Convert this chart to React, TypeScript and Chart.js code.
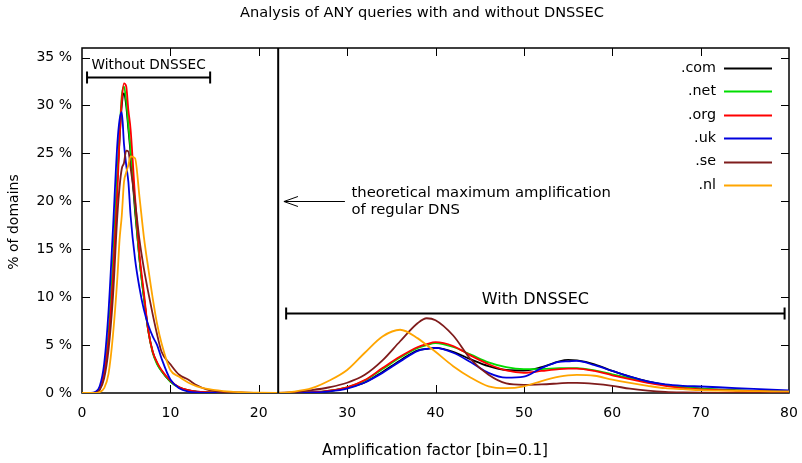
import React, { useEffect, useRef } from 'react';
import { Chart, registerables } from 'chart.js';
Chart.register(...registerables);

const FONT = "'DejaVu Sans', 'Liberation Sans', sans-serif";

const X = [0, 1, 1.5, 2, 2.5, 3, 3.5, 4, 4.25, 4.5, 4.75, 5, 5.25, 5.5, 6, 6.5, 7, 7.5, 8, 8.5, 9, 10, 11, 12, 13, 14, 16, 18, 20, 22,
  24, 26, 28, 30, 32, 34, 36, 38, 39, 40, 42, 44, 46, 48, 50, 52, 54, 55, 56, 58, 60, 62, 64, 66, 68, 70, 72, 74, 76, 78, 80];

const COM = [0, 0, 0.05, 0.4, 1.9, 5.8, 13, 22.5, 26.5, 30.0, 31.3, 30.0, 27.5, 25, 19, 14, 10, 6.5, 4.3, 3.1, 2.3, 1.2, 0.6, 0.3, 0.15, 0.08, 0.03, 0.01, 0, 0,
  0.02, 0.06, 0.2, 0.55, 1.1, 2.2, 3.4, 4.45, 4.6, 4.7, 4.3, 3.5, 2.8, 2.4, 2.35, 2.7, 3.3, 3.45, 3.4, 3.0, 2.3, 1.7, 1.2, 0.85, 0.6, 0.45, 0.35, 0.28, 0.22, 0.18, 0.15];
const NET = [0, 0, 0.05, 0.5, 2.2, 6, 13.5, 22.5, 27, 31, 32.0, 30.5, 28, 25.5, 19.5, 14, 10, 6.5, 4.2, 3.0, 2.3, 1.2, 0.55, 0.25, 0.12, 0.06, 0.02, 0.01, 0, 0,
  0.03, 0.08, 0.25, 0.6, 1.3, 2.5, 3.7, 4.7, 5.0, 5.2, 4.8, 4.0, 3.2, 2.7, 2.5, 2.5, 2.6, 2.6, 2.6, 2.35, 1.95, 1.55, 1.15, 0.85, 0.6, 0.45, 0.35, 0.28, 0.22, 0.18, 0.15];
const ORG = [0, 0, 0.05, 0.5, 2.0, 5.5, 12, 21, 26.5, 30.5, 32.3, 32.0, 29.5, 27.5, 20.5, 14.5, 10.5, 6.5, 4.3, 3.2, 2.4, 1.3, 0.6, 0.3, 0.15, 0.08, 0.03, 0.01, 0, 0,
  0.03, 0.08, 0.25, 0.6, 1.35, 2.6, 3.8, 4.8, 5.1, 5.3, 4.9, 3.9, 3.0, 2.35, 2.1, 2.3, 2.5, 2.55, 2.55, 2.3, 1.85, 1.45, 1.05, 0.75, 0.5, 0.38, 0.3, 0.24, 0.2, 0.16, 0.13];
const UK = [0, 0, 0.1, 0.7, 3.0, 8.5, 17, 26, 28.5, 29.3, 26.0, 23.8, 22, 18.5, 14, 11, 8.7, 7.1, 5.9, 5.0, 3.6, 1.4, 0.5, 0.15, 0.05, 0.02, 0.01, 0, 0, 0,
  0.02, 0.05, 0.17, 0.46, 1.1, 2.1, 3.3, 4.4, 4.6, 4.7, 4.2, 3.2, 2.1, 1.6, 1.7, 2.6, 3.25, 3.3, 3.35, 2.9, 2.3, 1.7, 1.2, 0.9, 0.75, 0.68, 0.6, 0.5, 0.42, 0.35, 0.28];
const SE = [0, 0, 0.02, 0.3, 1.5, 4.5, 10, 18.5, 21.5, 23.4, 24.0, 25.3, 25.2, 23.5, 20, 16, 13, 10.5, 8.2, 6.1, 4.3, 3.0, 1.9, 1.4, 0.8, 0.4, 0.1, 0.05, 0.02, 0.02,
  0.1, 0.3, 0.6, 1.07, 1.9, 3.4, 5.4, 7.3, 7.8, 7.6, 6.0, 3.5, 1.9, 1.0, 0.85, 0.9, 1.0, 1.05, 1.05, 0.95, 0.75, 0.45, 0.25, 0.12, 0.06, 0.03, 0.02, 0.02, 0.02, 0.02, 0.02];
const NL = [0, 0, 0, 0.1, 0.5, 2.0, 6, 12, 16, 18.5, 22, 23, 23.8, 24.7, 24.5, 20.5, 16.3, 13, 9.9, 7.2, 5.2, 2.4, 1.7, 1.1, 0.7, 0.45, 0.2, 0.08, 0.03, 0.02,
  0.15, 0.5, 1.3, 2.4, 4.2, 5.9, 6.6, 5.7, 5.0, 4.3, 2.8, 1.6, 0.7, 0.5, 0.7, 1.25, 1.7, 1.85, 1.9, 1.8, 1.4, 1.05, 0.75, 0.5, 0.4, 0.3, 0.25, 0.22, 0.2, 0.18, 0.18];

const SERIES = [COM, NET, ORG, UK, SE, NL];
const NAMES = ['.com', '.net', '.org', '.uk', '.se', '.nl'];
const COLORS = ['#000000', '#00dd00', '#ff0000', '#0000dd', '#7f1c1c', '#ffa500'];

const X_TICKS = [0, 10, 20, 30, 40, 50, 60, 70, 80];
const Y_TICKS = [0, 5, 10, 15, 20, 25, 30, 35];

const TITLE = 'Analysis of ANY queries with and without DNSSEC';
const X_TITLE = 'Amplification factor [bin=0.1]';
const Y_TITLE = '% of domains';
const LIMIT_X = 22.2;

export default function App() {
  const ref = useRef<HTMLCanvasElement>(null);
  useEffect(() => {
    const canvas = ref.current!;
    const overlay = {
      id: 'overlay',
      beforeDatasetsDraw(chart: any) {
        const { ctx, chartArea: a, scales } = chart;
        ctx.save();
        ctx.strokeStyle = '#000';
        ctx.lineWidth = 1;
        const tl = 8;
        X_TICKS.forEach((v) => {
          if (v === 0 || v === 80) return;
          const px = Math.round(scales.x.getPixelForValue(v)) + 0.5;
          ctx.beginPath();
          ctx.moveTo(px, a.bottom); ctx.lineTo(px, a.bottom - tl);
          ctx.moveTo(px, a.top); ctx.lineTo(px, a.top + tl);
          ctx.stroke();
        });
        Y_TICKS.forEach((v) => {
          if (v === 0) return;
          const py = Math.round(scales.y.getPixelForValue(v)) + 0.5;
          ctx.beginPath();
          ctx.moveTo(a.left, py); ctx.lineTo(a.left + tl, py);
          ctx.moveTo(a.right, py); ctx.lineTo(a.right - tl, py);
          ctx.stroke();
        });
        ctx.lineWidth = 1.5;
        ctx.strokeRect(a.left, a.top, a.right - a.left, a.bottom - a.top);
        ctx.restore();
      },
      afterDatasetsDraw(chart: any) {
        const { ctx, chartArea: a, scales } = chart;
        const sx = (v: number) => scales.x.getPixelForValue(v);
        const sy = (v: number) => scales.y.getPixelForValue(v);
        ctx.save();
        ctx.strokeStyle = '#000';
        ctx.fillStyle = '#000';
        ctx.lineWidth = 2;
        ctx.beginPath();
        ctx.moveTo(sx(LIMIT_X), a.top); ctx.lineTo(sx(LIMIT_X), a.bottom);
        ctx.stroke();
        ctx.lineWidth = 1;
        const ay = Math.round(sy(20)) + 0.5;
        const tip = sx(22.85), tail = sx(29.75);
        ctx.beginPath();
        ctx.moveTo(tail, ay); ctx.lineTo(tip, ay);
        ctx.moveTo(tip + 14, ay - 5); ctx.lineTo(tip, ay); ctx.lineTo(tip + 14, ay + 5);
        ctx.stroke();
        ctx.font = `14.8px ${FONT}`;
        ctx.textAlign = 'left';
        ctx.textBaseline = 'middle';
        ctx.fillText('theoretical maximum amplification', sx(30.5), sy(20.85));
        ctx.fillText('of regular DNS', sx(30.5), sy(19.1));
        const bracket = (x1: number, x2: number, yv: number, label: string, ly: number, size: number) => {
          const py = Math.round(sy(yv)) + 0.5;
          const p1 = sx(x1), p2 = sx(x2);
          ctx.lineWidth = 2;
          ctx.beginPath();
          ctx.moveTo(p1, py); ctx.lineTo(p2, py);
          ctx.moveTo(p1, py - 6); ctx.lineTo(p1, py + 6);
          ctx.moveTo(p2, py - 6); ctx.lineTo(p2, py + 6);
          ctx.stroke();
          ctx.font = `${size}px ${FONT}`;
          ctx.textAlign = 'center';
          ctx.fillText(label, (p1 + p2) / 2, sy(ly));
        };
        bracket(0.57, 14.5, 33.0, 'Without DNSSEC', 34.15, 13.7);
        bracket(23.1, 79.5, 8.33, 'With DNSSEC', 9.75, 16);
        ctx.font = `14.3px ${FONT}`;
        NAMES.forEach((n, i) => {
          const y = 68 + 23.4 * i;
          ctx.textAlign = 'right';
          ctx.fillStyle = '#000';
          ctx.fillText(n, 716, y);
          ctx.strokeStyle = COLORS[i];
          ctx.lineWidth = 2;
          ctx.beginPath();
          ctx.moveTo(724, Math.round(y) + 0.5); ctx.lineTo(772, Math.round(y) + 0.5);
          ctx.stroke();
        });
        ctx.fillStyle = '#000';
        ctx.textAlign = 'center';
        ctx.font = `14.6px ${FONT}`;
        ctx.fillText(TITLE, 422, 13);
        ctx.font = `15.2px ${FONT}`;
        ctx.fillText(X_TITLE, 435, 451);
        ctx.font = `14px ${FONT}`;
        ctx.translate(14, 222);
        ctx.rotate(-Math.PI / 2);
        ctx.fillText(Y_TITLE, 0, 0);
        ctx.restore();
      },
    };
    const chart = new Chart(canvas, {
      type: 'line',
      data: {
        datasets: SERIES.map((vals, i) => ({
          label: NAMES[i],
          data: X.map((x, j) => ({ x, y: vals[j] })),
          borderColor: COLORS[i],
          backgroundColor: COLORS[i],
          borderWidth: 1.8,
          pointRadius: 0,
          fill: false,
          cubicInterpolationMode: 'monotone' as const,
          order: 5 - i,
        })),
      },
      options: {
        animation: false,
        responsive: false,
        layout: { padding: { top: 48, right: 13, left: 0, bottom: 0 } },
        plugins: { legend: { display: false }, tooltip: { enabled: false }, title: { display: false } },
        scales: {
          x: {
            type: 'linear', min: 0, max: 80,
            grid: { display: false, drawTicks: false },
            border: { display: false },
            ticks: { autoSkip: false, maxRotation: 0, padding: 12, color: '#000', font: { family: FONT, size: 14 } },
            afterBuildTicks: (ax: any) => { ax.ticks = X_TICKS.map((v) => ({ value: v })); },
            afterFit: (s: any) => { s.height = 70; s.paddingLeft = 0; s.paddingRight = 0; },
          },
          y: {
            type: 'linear', min: 0, max: 36,
            grid: { display: false, drawTicks: false },
            border: { display: false },
            ticks: { autoSkip: false, padding: 10, color: '#000', font: { family: FONT, size: 14 }, callback: (v: any) => `${v} %` },
            afterBuildTicks: (ax: any) => { ax.ticks = Y_TICKS.map((v) => ({ value: v })); },
            afterFit: (s: any) => { s.width = 82; s.paddingTop = 0; s.paddingBottom = 0; },
          },
        },
      } as any,
      plugins: [overlay],
    });
    return () => chart.destroy();
  }, []);
  return (
    <div style={{ position: 'absolute', left: 0, top: 0, width: 802, height: 463, background: '#fff' }}>
      <canvas ref={ref} width={802} height={463} style={{ display: 'block', width: 802, height: 463 }} />
    </div>
  );
}
